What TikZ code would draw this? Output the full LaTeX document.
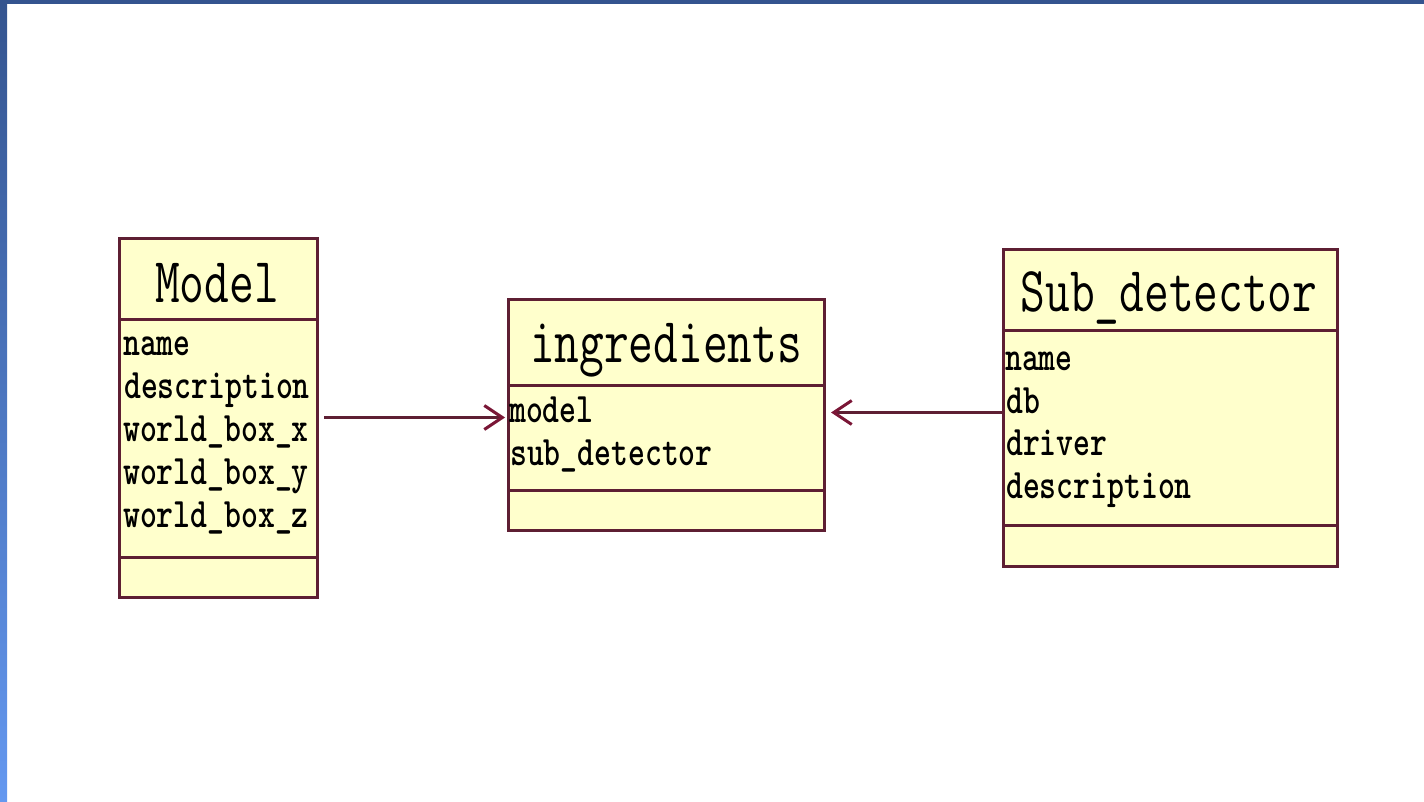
\documentclass[tikz,border=0pt]{standalone}
\usepackage{graphicx}
\usetikzlibrary{arrows.meta,calc}

\definecolor{umlline}{RGB}{94,31,51}
\definecolor{umlhead}{RGB}{122,22,54}
\definecolor{umlfill}{RGB}{255,255,204}
\definecolor{frametop}{RGB}{52,84,143}
\definecolor{framebottom}{RGB}{100,152,240}

% class names and attribute lines in a narrow typewriter face
\newcommand\clsname[1]{\scalebox{0.75}[1]{\fontsize{64}{64}\selectfont\ttfamily #1}}
\newcommand\clsattr[1]{\scalebox{0.765}[1]{\fontsize{42}{42}\selectfont\ttfamily\bfseries #1}}

\begin{document}
\begin{tikzpicture}[x=1pt,y=-1pt,
  classbox/.style={draw=umlline, fill=umlfill, line width=3pt, inner sep=0pt,
                   anchor=north west},
  divider/.style={draw=umlline, line width=3pt},
  title/.style={anchor=base, inner sep=0pt},
  attr/.style={anchor=base west, inner sep=0pt},
  assoc/.style={draw=umlline, line width=3pt,
                -{Straight Barb[length=18pt,width=24pt,color=umlhead]}}]

\useasboundingbox (0,0) rectangle (1424,802);

% window frame
\shade[top color=frametop, bottom color=framebottom] (0,0) rectangle (7,802);
\fill[frametop] (0,0) rectangle (1424,4);

% ---- class Model ----
\node[classbox, minimum width=198pt, minimum height=359pt] (model) at (118,237) {};
\coordinate (m1) at (0,319);
\coordinate (m2) at (0,557);
\draw[divider] (model.west |- m1) -- (model.east |- m1);
\draw[divider] (model.west |- m2) -- (model.east |- m2);
\node[title] (model-name) at (217,302) {\clsname{Model}};
\node[attr] (model-a1) at (123,355) {\clsattr{name}};
\node[attr] (model-a2) at (124,398) {\clsattr{description}};
\node[attr] (model-a3) at (123,441) {\clsattr{world\_box\_x}};
\node[attr] (model-a4) at (123,484) {\clsattr{world\_box\_y}};
\node[attr] (model-a5) at (123,527) {\clsattr{world\_box\_z}};

% ---- class ingredients ----
\node[classbox, minimum width=316pt, minimum height=231pt] (ingr) at (507,298) {};
\coordinate (i1) at (0,385);
\coordinate (i2) at (0,490);
\draw[divider] (ingr.west |- i1) -- (ingr.east |- i1);
\draw[divider] (ingr.west |- i2) -- (ingr.east |- i2);
\node[title] (ingr-name) at (666,362) {\clsname{ingredients}};
\node[attr] (ingr-a1) at (509,422) {\clsattr{model}};
\node[attr] (ingr-a2) at (510,465) {\clsattr{sub\_detector}};

% ---- class Sub_detector ----
\node[classbox, minimum width=334pt, minimum height=317pt] (sub) at (1002,248) {};
\coordinate (s1) at (0,330);
\coordinate (s2) at (0,525);
\draw[divider] (sub.west |- s1) -- (sub.east |- s1);
\draw[divider] (sub.west |- s2) -- (sub.east |- s2);
\node[title] (sub-name) at (1169,312) {\clsname{Sub\_detector}};
\node[attr] (sub-a1) at (1005,370) {\clsattr{name}};
\node[attr] (sub-a2) at (1006,413) {\clsattr{db}};
\node[attr] (sub-a3) at (1006,455) {\clsattr{driver}};
\node[attr] (sub-a4) at (1006,498) {\clsattr{description}};

% ---- associations ----
\coordinate (mstart) at ($(model.east)+(5,-0.5)$);
\draw[assoc, shorten >=2pt] (mstart) -- (mstart -| ingr.west);
\coordinate (sstart) at ($(sub.west)+(0,4.5)$);
\draw[assoc, shorten >=5pt] (sstart) -- (sstart -| ingr.east);

\end{tikzpicture}
\end{document}
